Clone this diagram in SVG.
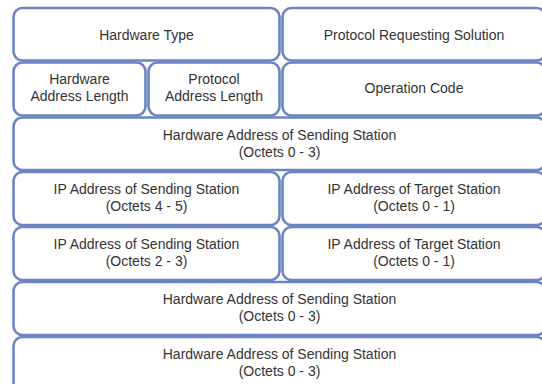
<svg xmlns="http://www.w3.org/2000/svg" width="542" height="384" viewBox="0 0 542 384">
<style>
.box{fill:#ffffff;stroke:#6a84c4;stroke-width:2.6}
text{font-family:"Liberation Sans",Arial,sans-serif;font-size:14px;fill:#333333;text-anchor:middle}
</style>
<rect width="542" height="384" fill="#ffffff"/>
<g id="hardware-type"><rect class="box" x="13.5" y="8" width="266" height="52.5" rx="9"/><text x="146.5" y="40">Hardware Type</text></g>
<g id="protocol-requesting-solution"><rect class="box" x="282.5" y="8" width="263" height="52.5" rx="9"/><text x="414" y="40">Protocol Requesting Solution</text></g>
<g id="hardware-address-length"><rect class="box" x="13.5" y="62.5" width="132" height="53" rx="9"/><text x="79.5" y="84">Hardware</text><text x="79.5" y="101">Address Length</text></g>
<g id="protocol-address-length"><rect class="box" x="148.5" y="62.5" width="131" height="53" rx="9"/><text x="214" y="84">Protocol</text><text x="214" y="101">Address Length</text></g>
<g id="operation-code"><rect class="box" x="282.5" y="62.5" width="263" height="53" rx="9"/><text x="414" y="93">Operation Code</text></g>
<g id="hw-addr-sending-1"><rect class="box" x="13.5" y="117.5" width="532" height="52.5" rx="9"/><text x="279.5" y="139.5">Hardware Address of Sending Station</text><text x="279.5" y="156.5">(Octets 0 - 3)</text></g>
<g id="ip-sending-4-5"><rect class="box" x="13.5" y="172" width="266" height="53" rx="9"/><text x="146.5" y="193.5">IP Address of Sending Station</text><text x="146.5" y="210.5">(Octets 4 - 5)</text></g>
<g id="ip-target-1"><rect class="box" x="282.5" y="172" width="263" height="53" rx="9"/><text x="414" y="193.5">IP Address of Target Station</text><text x="414" y="210.5">(Octets 0 - 1)</text></g>
<g id="ip-sending-2-3"><rect class="box" x="13.5" y="227" width="266" height="53" rx="9"/><text x="146.5" y="248.5">IP Address of Sending Station</text><text x="146.5" y="265.5">(Octets 2 - 3)</text></g>
<g id="ip-target-2"><rect class="box" x="282.5" y="227" width="263" height="53" rx="9"/><text x="414" y="248.5">IP Address of Target Station</text><text x="414" y="265.5">(Octets 0 - 1)</text></g>
<g id="hw-addr-sending-2"><rect class="box" x="13.5" y="282" width="532" height="53" rx="9"/><text x="279.5" y="303.5">Hardware Address of Sending Station</text><text x="279.5" y="320.5">(Octets 0 - 3)</text></g>
<g id="hw-addr-sending-3"><rect class="box" x="13.5" y="337" width="532" height="60" rx="9"/><text x="279.5" y="358.5">Hardware Address of Sending Station</text><text x="279.5" y="375.5">(Octets 0 - 3)</text></g>
<g id="connectors"></g>
</svg>
